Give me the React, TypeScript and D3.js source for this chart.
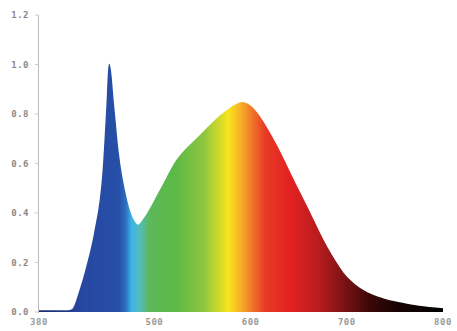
import React from "react";
import * as d3 from "d3";

const wavelengths = [380, 410, 415, 423, 431, 438, 447, 451, 453, 457, 462, 471, 478, 483, 490, 506, 523, 547, 568, 584, 591, 600, 607, 617, 627, 636, 644, 653, 662, 670, 679, 688, 696, 708, 721, 738, 755, 775, 800];
const intensity = [0.004, 0.004, 0.01, 0.09, 0.2, 0.32, 0.58, 0.85, 1.0, 0.85, 0.65, 0.45, 0.37, 0.35, 0.38, 0.49, 0.61, 0.71, 0.79, 0.835, 0.845, 0.83, 0.8, 0.74, 0.67, 0.6, 0.535, 0.465, 0.395, 0.33, 0.262, 0.203, 0.157, 0.11, 0.077, 0.052, 0.036, 0.022, 0.012];

const yTicks = [0, 0.2, 0.4, 0.6, 0.8, 1.0, 1.2];
const xTicks = [380, 500, 600, 700, 800];

const colorStopNm = [380, 423, 463, 470, 476, 484, 495, 520, 551, 565, 577, 589, 601, 615, 640, 671, 698, 724, 755, 800];
const colorStopColor = ["#1a2a70", "#2846a0", "#2650a8", "#2d6cc0", "#3ab4e6", "#55bcc0", "#5cb85a", "#5ab946", "#8cc63f", "#c8d62e", "#f7e51c", "#f8b12a", "#f07a28", "#e83a26", "#e32221", "#b81c1e", "#7a1214", "#3a0707", "#150303", "#000000"];

export default function App() {
  const W = 457, H = 331;
  const x = d3.scaleLinear().domain([380, 800]).range([39, 443]);
  const y = d3.scaleLinear().domain([0, 1.2]).range([312, 15]);
  const pts = wavelengths.map((w, i) => [w, intensity[i]] as [number, number]);
  const area = d3.area<[number, number]>()
    .x(d => x(d[0]))
    .y0(y(0))
    .y1(d => y(d[1]))
    .curve(d3.curveMonotoneX);
  const line = d3.line<[number, number]>()
    .x(d => x(d[0]))
    .y(d => y(d[1]))
    .curve(d3.curveMonotoneX);
  const font = "'DejaVu Sans Mono', monospace";
  return (
    <svg width={W} height={H} style={{ position: "absolute", left: 0, top: 0, background: "#fff" }}>
      <defs>
        <linearGradient id="spec" gradientUnits="userSpaceOnUse" x1={x(380)} x2={x(800)} y1={0} y2={0}>
          {colorStopNm.map((nm, i) => (
            <stop key={i} offset={(nm - 380) / 420} stopColor={colorStopColor[i]} />
          ))}
        </linearGradient>
      </defs>
      <path d={area(pts) || ""} fill="url(#spec)" />
      <path d={line(pts) || ""} fill="none" stroke="url(#spec)" strokeWidth={1.5} />
      <line x1={38.5} x2={38.5} y1={y(1.2)} y2={y(0) + 1} stroke="#bbb" strokeWidth={1} />
      {yTicks.map(t => (
        <g key={t}>
          <line x1={35} x2={38.5} y1={y(t)} y2={y(t)} stroke="#ccc" />
          <text x={29} y={y(t)} dy="0.35em" textAnchor="end" fontFamily={font} fontSize={9} fontWeight="bold" fill="#888" letterSpacing={0.5}>
            {t.toFixed(1)}
          </text>
        </g>
      ))}
      {xTicks.map(t => (
        <text key={t} x={x(t)} y={325} textAnchor="middle" fontFamily={font} fontSize={9} fontWeight="bold" fill="#999" letterSpacing={0.5}>
          {t}
        </text>
      ))}
    </svg>
  );
}
